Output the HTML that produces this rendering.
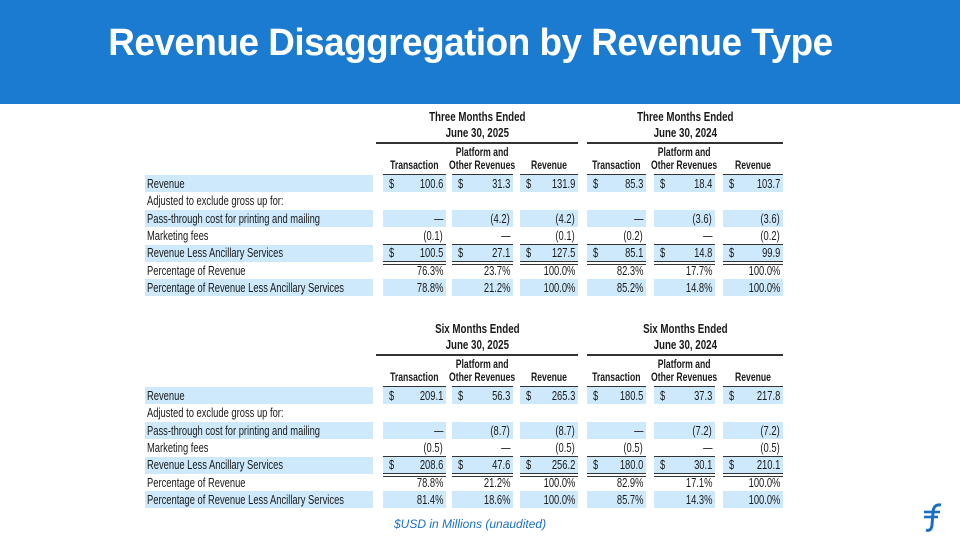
<!DOCTYPE html>
<html><head><meta charset="utf-8">
<style>
body{margin:0;width:960px;height:540px;position:relative;overflow:hidden;background:#fff;font-family:"Liberation Sans",Arial,sans-serif;}
#hdr{position:absolute;left:0;top:0;width:960px;height:104px;background:#1a7bd0;}
#title{position:absolute;left:0;width:940px;top:22px;text-align:center;color:#fff;font-weight:bold;font-size:38px;letter-spacing:-0.5px;}
#title span{display:inline-block;transform:scaleX(0.97);}
.t{position:absolute;white-space:nowrap;color:#1a1a1a;font-size:12px;line-height:18px;}
.t span{display:inline-block;transform:scaleX(0.75);}
.l span{transform-origin:left center;}
.r span{transform-origin:right center;}
.c span{transform-origin:center center;}
.hl{position:absolute;background:#cde9fb;}
.ln{position:absolute;background:#333;height:1px;}
#foot{position:absolute;left:394px;top:517px;color:#1a6fc4;font-style:italic;font-size:12px;}
</style></head><body>
<div id="hdr"><div id="title"><span>Revenue Disaggregation by Revenue Type</span></div></div>
<div id="tables"></div>
<div id="foot">$USD in Millions (unaudited)</div>
<svg style="position:absolute;left:918px;top:500px" width="34" height="34" viewBox="0 0 34 34">
<path d="M23 5 C17 4 15 8 15 13 L14 25 C13.5 30 11 31 8 30" stroke="#1a6fc4" stroke-width="3" fill="none"/>
<line x1="6" y1="12" x2="22" y2="12" stroke="#1a6fc4" stroke-width="2.6"/>
<line x1="6" y1="17" x2="20" y2="17" stroke="#1a6fc4" stroke-width="2.6"/>
</svg>
<script>
const rowLabels=["Revenue","Adjusted to exclude gross up for:","Pass-through cost for printing and mailing","Marketing fees","Revenue Less Ancillary Services","Percentage of Revenue","Percentage of Revenue Less Ancillary Services"];
const colHeads1=["Transaction","Platform and|Other Revenues","Revenue"];
const periodsTop=["Three Months Ended|June 30, 2025","Three Months Ended|June 30, 2024"];
const periodsBottom=["Six Months Ended|June 30, 2025","Six Months Ended|June 30, 2024"];
const valuesTop=[
 ["100.6","31.3","131.9","85.3","18.4","103.7"],
 ["","","","","",""],
 ["—","(4.2)","(4.2)","—","(3.6)","(3.6)"],
 ["(0.1)","—","(0.1)","(0.2)","—","(0.2)"],
 ["100.5","27.1","127.5","85.1","14.8","99.9"],
 ["76.3%","23.7%","100.0%","82.3%","17.7%","100.0%"],
 ["78.8%","21.2%","100.0%","85.2%","14.8%","100.0%"]];
const valuesBottom=[
 ["209.1","56.3","265.3","180.5","37.3","217.8"],
 ["","","","","",""],
 ["—","(8.7)","(8.7)","—","(7.2)","(7.2)"],
 ["(0.5)","—","(0.5)","(0.5)","—","(0.5)"],
 ["208.6","47.6","256.2","180.0","30.1","210.1"],
 ["78.8%","21.2%","100.0%","82.9%","17.1%","100.0%"],
 ["81.4%","18.6%","100.0%","85.7%","14.3%","100.0%"]];
const dollarRows=[0,4];
const highlightRows=[0,2,4,6];

const cellL=[383,452,520,587,654,723], cellR=[446,513,578,646,715,783];
const secL=[376,587], secR=[578,783];
const pitch=17.4;
const root=document.getElementById('tables');
function txt(cls,x,y,w,s,bold,size){
 const d=document.createElement('div');
 
 
 d.className='t '+cls;
 d.style.top=(y-9)+'px';
 if(cls==='r'){d.style.left=(x-w)+'px';d.style.width=w+'px';d.style.textAlign='right';}
 else if(cls==='c'){d.style.left=(x-w/2)+'px';d.style.width=w+'px';d.style.textAlign='center';}
 else d.style.left=x+'px';
 if(bold)d.style.fontWeight='bold';
 if(size)d.style.fontSize=size+'px';
 const sp=document.createElement('span');sp.textContent=s;d.appendChild(sp);root.appendChild(d);return d;}
function box(cls,x,y,w,h){const d=document.createElement('div');
 
 
 d.className=cls;d.style.left=x+'px';d.style.top=y+'px';d.style.width=w+'px';if(h)d.style.height=h+'px';root.appendChild(d);}
function table(base,periods,vals){
 highlightRows.forEach(i=>{const y=base+i*pitch;box('hl',145,y,228,pitch-0.4);
  for(let c=0;c<6;c++)box('hl',cellL[c],y,cellR[c]-cellL[c],pitch-0.4);});
 periods.forEach((p,k)=>{const cx=(secL[k]+secR[k])/2;const ps=p.split('|');
  txt('c',cx,base-58,200,ps[0],true,13);txt('c',cx,base-42,200,ps[1],true,13);
  box('ln',secL[k],base-33,secR[k]-secL[k],1.5);});
 for(let c=0;c<6;c++){const h=colHeads1[c%3].split('|');const cx=(cellL[c]+cellR[c])/2;
  if(h.length>1){txt('c',cx,base-22,90,h[0],true,11.5);txt('c',cx,base-9,90,h[1],true,11.5);}
  else txt('c',cx,base-9,90,h[0],true,11.5);
  box('ln',cellL[c],base-1,cellR[c]-cellL[c]);
  box('ln',cellL[c],base+4*pitch-0.5,cellR[c]-cellL[c]);
  box('ln',cellL[c],base+5*pitch-1,cellR[c]-cellL[c]);
  box('ln',cellL[c],base+5*pitch+1.5,cellR[c]-cellL[c]);}
 rowLabels.forEach((lab,i)=>{const y=base+i*pitch+pitch/2;txt('l',147,y,0,lab,false,12.5);
  vals[i].forEach((v,c)=>{if(v!=='')txt('r',cellR[c]-3,y,60,v,false,12.5);
   if(dollarRows.includes(i))txt('l',cellL[c]+6,y,0,'$',false,12.5);});});
}
table(175,periodsTop,valuesTop);
table(387,periodsBottom,valuesBottom);
</script>
</body></html>
